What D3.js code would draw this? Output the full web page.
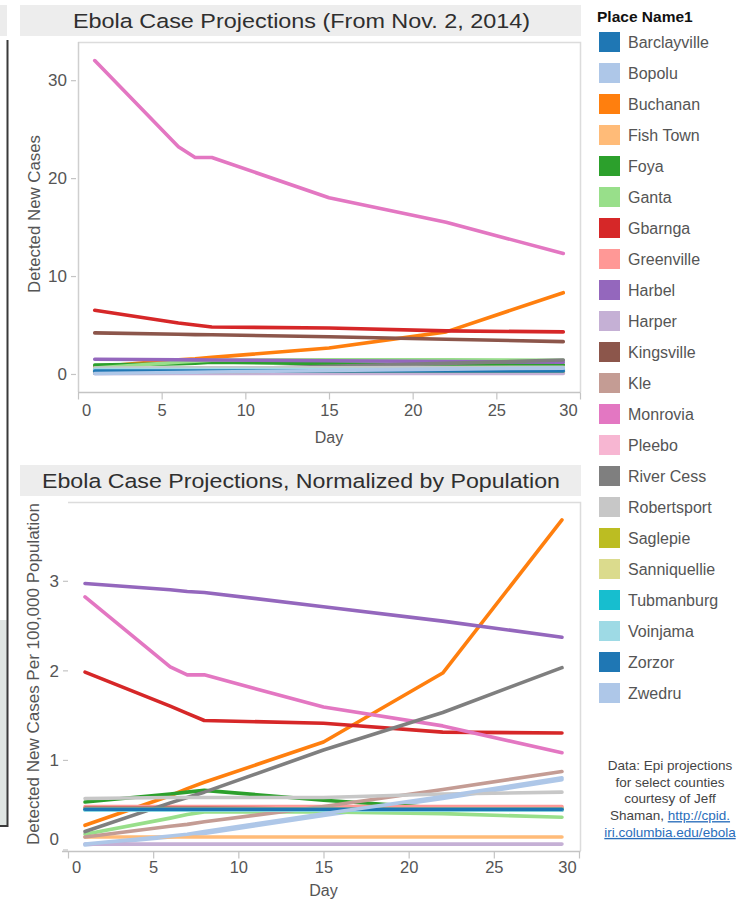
<!DOCTYPE html>
<html>
<head>
<meta charset="utf-8">
<script src="https://cdn.jsdelivr.net/npm/d3@7"></script>
<style>
  html, body { margin: 0; padding: 0; background: #fff; }
  svg { display: block; font-family: "Liberation Sans", Arial, sans-serif; }
</style>
</head>
<body>
<svg id="chart" width="739" height="905"></svg>
<script>
// ---------------- DATA ----------------
const days = [1, 6, 7, 8, 15, 22, 29];

const places = ["Barclayville", "Bopolu", "Buchanan", "Fish Town", "Foya", "Ganta", "Gbarnga",
  "Greenville", "Harbel", "Harper", "Kingsville", "Kle", "Monrovia", "Pleebo", "River Cess",
  "Robertsport", "Saglepie", "Sanniquellie", "Tubmanburg", "Voinjama", "Zorzor", "Zwedru"];

const placeColors = ["#1f77b4", "#aec7e8", "#ff7f0e", "#ffbb78", "#2ca02c", "#98df8a", "#d62728",
  "#ff9896", "#9467bd", "#c5b0d5", "#8c564b", "#c49c94", "#e377c2", "#f7b6d2", "#7f7f7f",
  "#c7c7c7", "#bcbd22", "#dbdb8d", "#17becf", "#9edae5", "#1f77b4", "#aec7e8"];

// Detected new cases (top chart), one row per place, values at `days`
const newCases = [
  [0.25, 0.25, 0.25, 0.25, 0.25, 0.25, 0.25],   // Barclayville
  [0.05, 0.08, 0.09, 0.10, 0.15, 0.20, 0.25],   // Bopolu
  [0.70, 1.45, 1.55, 1.70, 2.65, 4.30, 8.30],   // Buchanan
  [0.10, 0.10, 0.10, 0.10, 0.10, 0.10, 0.10],   // Fish Town
  [0.90, 1.05, 1.10, 1.20, 1.05, 0.95, 0.95],   // Foya
  [0.60, 1.20, 1.30, 1.40, 1.45, 1.45, 1.40],   // Ganta
  [6.50, 5.20, 5.00, 4.80, 4.70, 4.40, 4.30],   // Gbarnga
  [0.50, 0.50, 0.50, 0.50, 0.50, 0.50, 0.50],   // Greenville
  [1.50, 1.45, 1.44, 1.43, 1.35, 1.28, 1.20],   // Harbel
  [0.05, 0.05, 0.05, 0.05, 0.05, 0.05, 0.05],   // Harper
  [4.20, 4.05, 4.02, 4.00, 3.80, 3.55, 3.30],   // Kingsville
  [0.10, 0.18, 0.20, 0.22, 0.35, 0.48, 0.62],   // Kle
  [32.0, 23.2, 22.1, 22.1, 18.0, 15.5, 12.3],   // Monrovia
  [0.40, 0.40, 0.40, 0.40, 0.40, 0.40, 0.40],   // Pleebo
  [0.14, 0.36, 0.41, 0.45, 0.78, 1.08, 1.42],   // River Cess
  [0.60, 0.62, 0.62, 0.62, 0.62, 0.66, 0.68],   // Robertsport
  [0.30, 0.30, 0.30, 0.30, 0.30, 0.30, 0.30],   // Saglepie
  [0.35, 0.35, 0.35, 0.35, 0.35, 0.35, 0.35],   // Sanniquellie
  [0.40, 0.40, 0.40, 0.40, 0.40, 0.40, 0.40],   // Tubmanburg
  [0.45, 0.45, 0.45, 0.45, 0.45, 0.45, 0.45],   // Voinjama
  [0.30, 0.30, 0.30, 0.30, 0.30, 0.30, 0.30],   // Zorzor
  [0.05, 0.15, 0.17, 0.20, 0.35, 0.50, 0.60]    // Zwedru
];

// Detected new cases per 100,000 population (bottom chart)
const perCapita = [
  [0.45, 0.45, 0.45, 0.45, 0.45, 0.45, 0.45],   // Barclayville
  [0.05, 0.14, 0.16, 0.18, 0.38, 0.57, 0.78],   // Bopolu
  [0.27, 0.60, 0.68, 0.75, 1.20, 1.97, 3.68],   // Buchanan
  [0.14, 0.14, 0.14, 0.14, 0.14, 0.14, 0.14],   // Fish Town
  [0.53, 0.62, 0.64, 0.66, 0.55, 0.46, 0.46],   // Foya
  [0.17, 0.35, 0.39, 0.42, 0.42, 0.40, 0.36],   // Ganta
  [1.98, 1.60, 1.52, 1.44, 1.41, 1.31, 1.30],   // Gbarnga
  [0.48, 0.48, 0.48, 0.48, 0.48, 0.48, 0.48],   // Greenville
  [2.97, 2.90, 2.88, 2.87, 2.71, 2.55, 2.37],   // Harbel
  [0.06, 0.06, 0.06, 0.06, 0.06, 0.06, 0.06],   // Harper
  [0.46, 0.46, 0.46, 0.46, 0.45, 0.45, 0.44],   // Kingsville
  [0.14, 0.26, 0.28, 0.31, 0.48, 0.67, 0.87],   // Kle
  [2.82, 2.04, 1.95, 1.95, 1.59, 1.38, 1.08],   // Monrovia
  [0.45, 0.45, 0.45, 0.45, 0.45, 0.45, 0.45],   // Pleebo
  [0.20, 0.52, 0.58, 0.64, 1.11, 1.53, 2.03],   // River Cess
  [0.57, 0.58, 0.58, 0.58, 0.58, 0.62, 0.64],   // Robertsport
  [0.45, 0.45, 0.45, 0.45, 0.45, 0.45, 0.45],   // Saglepie
  [0.45, 0.45, 0.45, 0.45, 0.45, 0.45, 0.45],   // Sanniquellie
  [0.44, 0.44, 0.44, 0.44, 0.44, 0.44, 0.44],   // Tubmanburg
  [0.44, 0.44, 0.44, 0.44, 0.44, 0.44, 0.44],   // Voinjama
  [0.45, 0.45, 0.45, 0.45, 0.45, 0.45, 0.45],   // Zorzor
  [0.06, 0.15, 0.17, 0.20, 0.40, 0.59, 0.80]    // Zwedru
];

const xTickValues = [0, 5, 10, 15, 20, 25, 30];
const topYTicks = [0, 10, 20, 30];
const bottomYTicks = [0, 1, 2, 3];
// note lines: [plain part, link part]
const noteLines = [["Data: Epi projections", ""], ["for select counties", ""], ["courtesy of Jeff", ""],
  ["Shaman, ", "http://cpid."], ["", "iri.columbia.edu/ebola"]];

// ---------------- DRAW ----------------
const svg = d3.select("#chart");
const FONT = '"Liberation Sans", Arial, sans-serif';

// left-edge remnant of neighbouring panel
svg.append("rect").attr("x", 0).attr("y", 5).attr("width", 7).attr("height", 31).attr("fill", "#ececec");
svg.append("rect").attr("x", 0).attr("y", 620).attr("width", 7).attr("height", 206).attr("fill", "#dfe5e2");
svg.append("line").attr("x1", 7.5).attr("x2", 7.5).attr("y1", 40).attr("y2", 827)
  .attr("stroke", "#3a3a3a").attr("stroke-width", 2);
svg.append("line").attr("x1", 0).attr("x2", 8).attr("y1", 826).attr("y2", 826)
  .attr("stroke", "#3a3a3a").attr("stroke-width", 2);

function drawChart(cfg) {
  const g = svg.append("g");
  // title band
  g.append("rect").attr("x", 20).attr("y", cfg.bandY).attr("width", 561).attr("height", 31)
    .attr("fill", "#ededed");
  g.append("text").attr("x", cfg.titleX).attr("y", cfg.bandY + 15.5).attr("dy", "0.35em")
    .attr("text-anchor", "middle").attr("font-size", 20.5).attr("fill", "#2f2f2f")
    .attr("textLength", cfg.titleLen).attr("lengthAdjust", "spacingAndGlyphs")
    .text(cfg.title);

  const x = d3.scaleLinear().domain([0, 30]).range([cfg.x0, cfg.x1]);
  const y = d3.scaleLinear().domain(cfg.yDomain).range([cfg.yBottom, cfg.yTop]);

  // pane border (top + right)
  g.append("path")
    .attr("d", `M${cfg.x0},${cfg.yTop + 0.5}H${580.5}V${cfg.yBottom}`)
    .attr("fill", "none").attr("stroke", "#dcdcdc").attr("stroke-width", 1.5);
  if (cfg.leftLine) {
    g.append("line").attr("x1", cfg.x0 + 0.5).attr("x2", cfg.x0 + 0.5)
      .attr("y1", cfg.yTop).attr("y2", cfg.yBottom)
      .attr("stroke", "#cfcfcf").attr("stroke-width", 1.5);
  }

  // x axis
  const xa = g.append("g").attr("transform", `translate(0,${cfg.yBottom + 0.5})`)
    .call(d3.axisBottom(x).tickValues(xTickValues).tickSize(7).tickSizeOuter(0).tickPadding(cfg.xPad));
  xa.select(".domain").attr("stroke", "#c4c4c4").attr("stroke-width", 1.5)
    .attr("d", `M${cfg.axisStart},0H${580.5}`);
  xa.selectAll(".tick line").attr("stroke", "#c4c4c4").attr("stroke-width", 1.2);
  xa.selectAll(".tick text").attr("font-size", 16.5).attr("fill", "#555").attr("font-family", FONT)
    .attr("dx", d => d === 0 ? 8 : (d === 30 ? -12 : 0));

  g.append("text").attr("x", (cfg.x0 + cfg.x1) / 2).attr("y", cfg.dayY).attr("dy", "0.35em")
    .attr("text-anchor", "middle").attr("font-size", 16).attr("fill", "#555").text("Day");

  // y axis
  const ya = g.append("g").attr("transform", `translate(${cfg.yAxisX},0)`)
    .call(d3.axisLeft(y).tickValues(cfg.yTicks).tickSize(5).tickPadding(cfg.yPad)
      .tickFormat(d3.format("d")));
  ya.select(".domain").remove();
  ya.selectAll(".tick line").attr("stroke", "#c4c4c4").attr("stroke-width", 1.2);
  ya.selectAll(".tick text").attr("font-size", 17).attr("fill", "#555").attr("font-family", FONT)
    .attr("dy", d => (d === 0 && cfg.shiftZero) ? "-0.3em" : "0.34em");

  g.append("text")
    .attr("transform", `translate(${cfg.yTitleX},${cfg.yTitleY}) rotate(-90)`)
    .attr("text-anchor", "middle").attr("dy", "0.35em")
    .attr("font-size", 16).attr("fill", "#555")
    .attr("textLength", cfg.yTitleLen).attr("lengthAdjust", "spacingAndGlyphs")
    .text(cfg.yTitle);

  // lines
  const line = d3.line().x((d, i) => x(days[i])).y(d => y(d));
  g.append("g").selectAll("path").data(cfg.series).join("path")
    .attr("d", d => line(d))
    .attr("fill", "none")
    .attr("stroke", (d, i) => placeColors[i])
    .attr("stroke-width", 3.6)
    .attr("stroke-linejoin", "round")
    .attr("stroke-linecap", "round");
}

drawChart({
  title: "Ebola Case Projections (From Nov. 2, 2014)", titleX: 301.5, titleLen: 457, bandY: 5,
  x0: 78, x1: 580, yTop: 42, yBottom: 392, yDomain: [-1.84, 33.9], yTicks: topYTicks,
  yAxisX: 76, yPad: 4, leftLine: true, axisStart: 78, dayY: 437, xPad: 5,
  yTitle: "Detected New Cases", yTitleX: 34, yTitleY: 214, yTitleLen: 158,
  series: newCases, shiftZero: false
});

drawChart({
  title: "Ebola Case Projections, Normalized by Population", titleX: 301, titleLen: 518, bandY: 465,
  x0: 68, x1: 579, yTop: 502, yBottom: 851, yDomain: [-0.017, 3.88], yTicks: bottomYTicks,
  yAxisX: 68, yPad: 4, leftLine: false, axisStart: 62, dayY: 890, xPad: 3,
  yTitle: "Detected New Cases Per 100,000 Population", yTitleX: 33, yTitleY: 674, yTitleLen: 342,
  series: perCapita, shiftZero: true
});

// legend
const lg = svg.append("g");
lg.append("text").attr("x", 597).attr("y", 17).attr("dy", "0.35em")
  .attr("font-size", 15.5).attr("font-weight", "bold").attr("fill", "#111").text("Place Name1");
const items = lg.selectAll("g.item").data(places).join("g").attr("class", "item")
  .attr("transform", (d, i) => `translate(0,${42 + i * 31})`);
items.append("rect").attr("x", 599).attr("y", -10).attr("width", 21).attr("height", 20)
  .attr("fill", (d, i) => placeColors[i]);
items.append("text").attr("x", 628).attr("dy", "0.35em").attr("font-size", 16)
  .attr("fill", "#555").text(d => d);

// data note
const note = svg.append("g");
noteLines.forEach((parts, i) => {
  const t = note.append("text").attr("x", 670).attr("y", 765 + i * 16.8).attr("dy", "0.35em")
    .attr("text-anchor", "middle").attr("font-size", 13.5).attr("fill", "#444");
  if (parts[0]) t.append("tspan").text(parts[0]);
  if (parts[1]) t.append("tspan").attr("fill", "#2a6ebb").attr("text-decoration", "underline").text(parts[1]);
});
</script>
</body>
</html>
